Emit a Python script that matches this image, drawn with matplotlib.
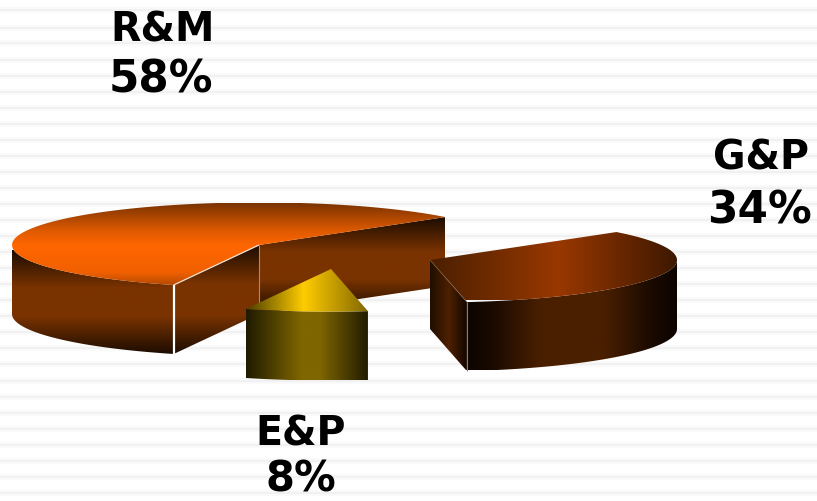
import numpy as np
import matplotlib
matplotlib.use("Agg")
import matplotlib.pyplot as plt
from matplotlib.colors import LinearSegmentedColormap
from matplotlib.patches import Polygon

# Data
names = ["R&M", "E&P", "G&P"]
shares = [58, 8, 34]
label_text = {"R&M": "R&M\n58%", "E&P": "E&P\n8%", "G&P": "G&P\n34%"}
stripe_rows = [10, 28, 43, 60, 76, 92, 108, 124, 140, 156, 172, 188, 204, 220, 236, 252,
               268, 284, 300, 316, 332, 348, 364, 381, 397, 413, 429, 445, 461, 477, 493]

# Layout (pixels)
START = 41.0
RX, RY, DEPTH = 247.0, 42.6, 69.0
APEX = {"R&M": (259, 245), "E&P": (331, 269), "G&P": (430, 260)}

fig = plt.figure(figsize=(8.17, 5.01), dpi=100)
ax = fig.add_axes([0, 0, 1, 1])
ax.set_axis_off()

for y in stripe_rows:
    ax.axhline(y, color="#fafafa", lw=4.5, zorder=0)
    ax.axhline(y, color="#f1f1f1", lw=1.6, zorder=0)

# Angles from shares
angles = {}
a = START
for n, s in zip(names, shares):
    angles[n] = (a, a + s * 3.6)
    a += s * 3.6


def pt(name, ang, dz=0.0):
    cx, cy = APEX[name]
    t = np.radians(ang)
    return cx + RX * np.cos(t), cy - RY * np.sin(t) + dz


def arc(name, a1, a2, dz=0.0):
    t = np.linspace(a1, a2, 80)
    return [pt(name, v, dz) for v in t]


z = [1]


def grad(poly, stops, horizontal, box=None):
    poly = np.array(poly)
    if box is None:
        box = (poly[:, 0].min(), poly[:, 0].max(), poly[:, 1].min(), poly[:, 1].max())
    cmap = LinearSegmentedColormap.from_list("g", stops, N=256)
    arr = np.linspace(0, 1, 256)
    arr = arr[None, :] if horizontal else arr[:, None]
    z[0] += 1
    im = ax.imshow(arr, cmap=cmap, extent=(box[0], box[1], box[3], box[2]), origin="upper",
                   aspect="auto", zorder=z[0], interpolation="bilinear")
    im.set_clip_path(Polygon(poly, closed=True, transform=ax.transData))


def line(p, q, color, lw):
    z[0] += 1
    ax.plot([p[0], q[0]], [p[1], q[1]], color=color, lw=lw, zorder=z[0], solid_capstyle="butt")


def wall(name, a1, a2):
    return arc(name, a1, a2) + arc(name, a2, a1, DEPTH)


def cut(name, ang):
    c = APEX[name]
    p = pt(name, ang)
    return [c, p, (p[0], p[1] + DEPTH), (c[0], c[1] + DEPTH)]


# R&M
r1, r2 = angles["R&M"]
v_side = [(0, "#1c0c00"), (0.36, "#7a3300"), (0.64, "#7a3300"), (1, "#1c0c00")]
grad(wall("R&M", 180, r2), v_side, False, (12, 175, 250, 354))
grad(cut("R&M", r2), v_side, False, (174, 260, 245, 354))
grad(cut("R&M", r1), v_side, False, (259, 445, 217, 314))
grad(arc("R&M", r1, r2) + [APEX["R&M"]],
     [(0, "#7a3300"), (0.33, "#e05a00"), (0.5, "#ff6600"), (0.82, "#f06000"), (1, "#a84400")],
     False, (12, 445, 203, 288))
p = pt("R&M", r2)
line(p, (p[0], p[1] + DEPTH), "#ffffff", 1.6)
line(p, APEX["R&M"], "#f5e0d0", 0.9)
line(APEX["R&M"], (259, 314), "#b08a70", 0.8)

# G&P
g1, g2 = angles["G&P"]
grad(cut("G&P", g1), [(0, "#200e00"), (0.5, "#4d2000"), (1, "#100500")], True, (430, 468, 260, 370))
grad(wall("G&P", g1, 360),
     [(0, "#0d0400"), (0.12, "#1a0a00"), (0.35, "#4a1f00"), (0.65, "#4a1f00"), (0.88, "#1a0a00"), (1, "#0d0400")],
     True, (467, 677, 260, 370))
grad(arc("G&P", g1, g2) + [APEX["G&P"]],
     [(0, "#4a1f00"), (0.52, "#993800"), (1, "#3d1800")], True, (430, 677, 232, 300))
p = pt("G&P", g1)
line(p, (p[0], p[1] + DEPTH), "#8a7a70", 0.8)
line(p, APEX["G&P"], "#8a6a50", 0.5)

# E&P
e1, e2 = angles["E&P"]
grad(wall("E&P", e1, e2), [(0, "#1f1a00"), (0.45, "#7f6600"), (0.6, "#7f6600"), (1, "#1f1a00")], True, (246, 369, 309, 380))
grad(arc("E&P", e1, e2) + [APEX["E&P"]],
     [(0, "#4a3d00"), (0.47, "#ffcc00"), (1, "#806600")], True, (246, 369, 269, 313))

# Labels
font = dict(family="DejaVu Sans", weight="bold", color="#000000", ha="center", va="baseline", zorder=100)
for n, xy, size2 in zip(["R&M", "G&P", "E&P"],
                        [((163, 41), (161, 92)), ((761, 170), (759, 223)), ((301, 446), (301, 491))],
                        [31.5, 31.5, 30]):
    l1, l2 = label_text[n].split("\n")
    ax.text(*xy[0], l1, fontsize=28.5, **font)
    ax.text(*xy[1], l2, fontsize=size2, **font)

ax.set_xlim(0, 817)
ax.set_ylim(501, 0)
fig.savefig("out.png", dpi=100, facecolor="white")
